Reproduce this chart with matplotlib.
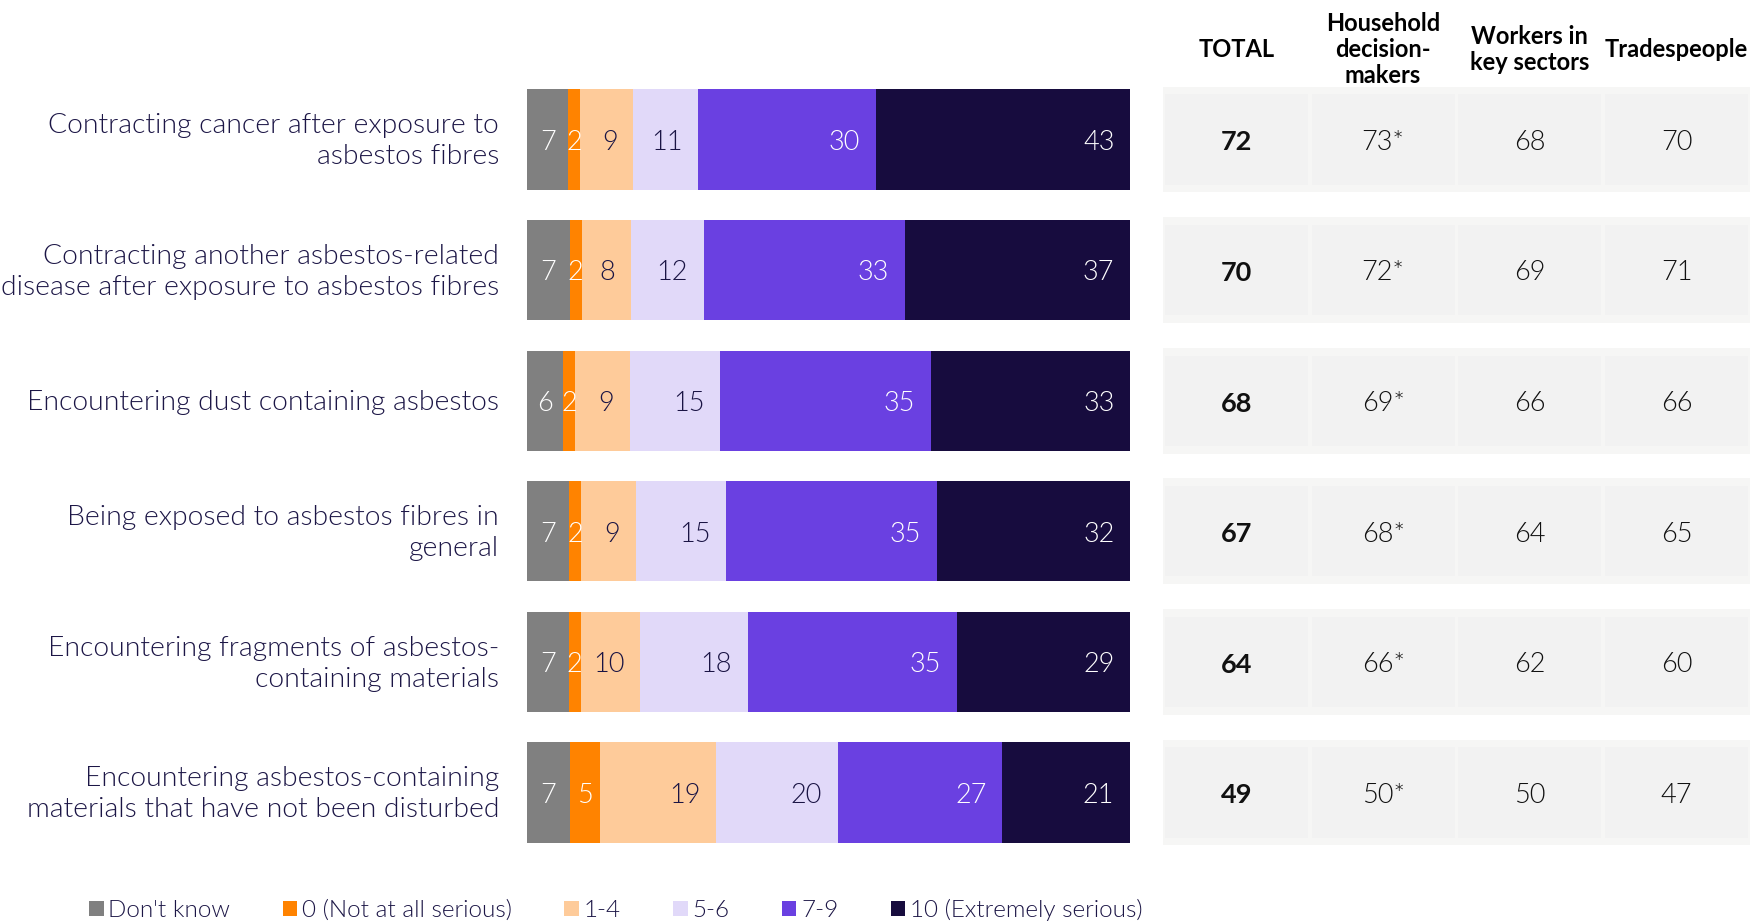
import numpy as np
import matplotlib.pyplot as plt
from matplotlib.patches import Rectangle, Patch

# ==========================================
# Data
# ==========================================
categories = [
    "Contracting cancer after exposure to\nasbestos fibres",
    "Contracting another asbestos-related\ndisease after exposure to asbestos fibres",
    "Encountering dust containing asbestos",
    "Being exposed to asbestos fibres in\ngeneral",
    "Encountering fragments of asbestos-\ncontaining materials",
    "Encountering asbestos-containing\nmaterials that have not been disturbed",
]

series_names = ["Don't know", "0 (Not at all serious)", "1-4", "5-6", "7-9",
                "10 (Extremely serious)"]
dont_know = [7, 7, 6, 7, 7, 7]
zero = [2, 2, 2, 2, 2, 5]
one_four = [9, 8, 9, 9, 10, 19]
five_six = [11, 12, 15, 15, 18, 20]
seven_nine = [30, 33, 35, 35, 35, 27]
ten = [43, 37, 33, 32, 29, 21]

table_headers = ["TOTAL", "Household\ndecision-\nmakers", "Workers in\nkey sectors",
                 "Tradespeople"]
total = [72, 70, 68, 67, 64, 49]
household = [73, 72, 69, 68, 66, 50]   # marked * (significant difference)
workers = [68, 69, 66, 64, 62, 50]
trades = [70, 71, 66, 65, 60, 47]

# ==========================================
# Style
# ==========================================
colors = ["#808080", "#FF8300", "#FECB9A", "#E1D9F9", "#6A40E1", "#170C3E"]
label_colors = ["white", "white", "#1A1444", "#1A1444", "white", "white"]
NAVY = "#1C1646"
FS = 19.5
LIGHT = 300
plt.rcParams['font.family'] = ['Lato', 'DejaVu Sans']

W, H = 1750, 921
fig = plt.figure(figsize=(W / 100, H / 100), dpi=100)

# vertical extent shared by the bars and the table
ax_bottom = 1 - 857.8 / H
ax_height = (857.8 - 74.2) / H
dy = 0.022  # digits have no descenders, nudge them onto the bar centre

# ==========================================
# Stacked 100% bars
# ==========================================
ax = fig.add_axes([527 / W, ax_bottom, (1130 - 527) / W, ax_height])
data = np.array([dont_know, zero, one_four, five_six, seven_nine, ten], dtype=float)
shares = data / data.sum(axis=0) * 100
y = np.arange(len(categories))
bar_h = 0.766
pad = 2.6

left = np.zeros(len(categories))
for k in range(len(series_names)):
    ax.barh(y, shares[k], left=left, height=bar_h, color=colors[k], linewidth=0)
    for i in range(len(categories)):
        w = shares[k, i]
        if w >= 8:
            ax.text(left[i] + w - pad, i + dy, f"{int(data[k, i])}", ha='right',
                    va='center', fontsize=FS, color=label_colors[k], fontweight=LIGHT)
        else:
            ax.text(left[i] + w / 2, i + dy, f"{int(data[k, i])}", ha='center',
                    va='center', fontsize=FS, color=label_colors[k], fontweight=LIGHT)
    left += shares[k]

for i, cat in enumerate(categories):
    ax.text(-4.64, i + 0.015, cat, ha='right', va='center', fontsize=20.3, color=NAVY,
            linespacing=1.3, fontweight=LIGHT)

ax.set_xlim(0, 100)
ax.set_ylim(len(categories) - 0.5, -0.5)
ax.axis('off')

# ==========================================
# Side table
# ==========================================
ax_t = fig.add_axes([1163 / W, ax_bottom, (W - 1163) / W, ax_height])
ax_t.set_xlim(0, 4)
ax_t.set_ylim(len(categories) - 0.5, -0.5)
ax_t.axis('off')

columns = [total, household, workers, trades]
gap = 0.0136
for i in range(len(categories)):
    ax_t.add_patch(Rectangle((0, i - 0.405), 4, 0.81, color="#F6F6F5", linewidth=0))
    for c, col in enumerate(columns):
        ax_t.add_patch(Rectangle((c + gap, i - 0.345), 1 - 2 * gap, 0.69,
                                 color="#F2F2F2", linewidth=0))
        txt = f"{col[i]}*" if c == 1 else f"{col[i]}"
        ax_t.text(c + 0.5, i + dy, txt, ha='center', va='center', fontsize=FS,
                  color="#111111", fontweight='bold' if c == 0 else LIGHT)

for c, hdr in enumerate(table_headers):
    ax_t.text(c + 0.5, -0.69, hdr, ha='center', va='center', fontsize=17,
              fontweight='bold', color="#000000", linespacing=1.17, clip_on=False)

# ==========================================
# Legend
# ==========================================
handles = [Patch(facecolor=colors[k], edgecolor='none') for k in range(len(series_names))]
leg = fig.legend(handles, series_names, loc='center left',
                 bbox_to_anchor=(89 / W, 1 - 910 / H), ncol=6, frameon=False,
                 fontsize=17.5, handlelength=0.6, handleheight=0.6, handletextpad=0.2,
                 columnspacing=2.15, borderpad=0, borderaxespad=0, labelcolor=NAVY)
for t in leg.get_texts():
    t.set_fontweight(LIGHT)

plt.savefig("out.png", dpi=100)
plt.close()
